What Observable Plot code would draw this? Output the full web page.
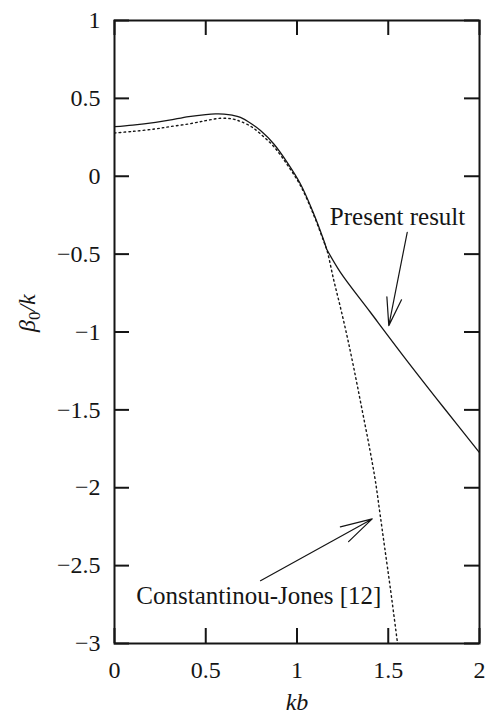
<!DOCTYPE html>
<html><head><meta charset="utf-8">
<script src="https://cdn.jsdelivr.net/npm/d3@7"></script>
<script src="https://cdn.jsdelivr.net/npm/@observablehq/plot@0.6"></script>
<style>body{margin:0;background:#fff} svg{display:block} svg text{font-family:"Liberation Serif","DejaVu Serif",serif !important;}</style>
</head><body><div id="chart"></div>
<script>
// ---- data ----
const xTicks = [0, 0.5, 1, 1.5, 2];
const yTicks = [-3, -2.5, -2, -1.5, -1, -0.5, 0, 0.5, 1];

// Present result: smooth part up to the kink
const presentKbA   = [0, 0.1, 0.225, 0.3, 0.407, 0.5, 0.553, 0.6, 0.645, 0.69, 0.75, 0.8, 0.873, 0.946, 1.019, 1.092, 1.147, 1.162];
const presentBetaA = [0.318, 0.328, 0.346, 0.36, 0.383, 0.396, 0.4, 0.399, 0.392, 0.378, 0.337, 0.293, 0.207, 0.089, -0.05, -0.242, -0.413, -0.467];
// Present result: nearly straight part after the kink
const presentKbB   = [1.162, 1.238, 1.4, 1.6, 1.8, 2.0];
const presentBetaB = [-0.467, -0.617, -0.87, -1.18, -1.48, -1.775];

// Constantinou-Jones [12] (dotted)
const cjKb   = [0, 0.1, 0.225, 0.3, 0.407, 0.5, 0.58, 0.645, 0.69, 0.75, 0.8, 0.873, 0.946, 1.019, 1.092, 1.147, 1.165, 1.2, 1.238, 1.275, 1.311, 1.35, 1.4, 1.43, 1.454, 1.48, 1.512, 1.551];
const cjBeta = [0.278, 0.288, 0.304, 0.318, 0.336, 0.357, 0.372, 0.368, 0.352, 0.318, 0.272, 0.19, 0.075, -0.06, -0.25, -0.42, -0.478, -0.66, -0.842, -1.03, -1.23, -1.46, -1.76, -1.96, -2.16, -2.38, -2.65, -3.0];

// annotations
const annText = ["Present result", "Constantinou-Jones [12]"];
const annKb   = [1.551, 0.791];
const annBeta = [-0.261, -2.693];
const arrowKb1 = [1.604, 0.8];
const arrowBeta1 = [-0.36, -2.597];
const arrowKb2 = [1.503, 1.412];
const arrowBeta2 = [-0.959, -2.2];

const xLabel = "kb";
const yLabel = "β0/k";

// ---- build ----
const W = 485, H = 717, mL = 114, mR = 6, mT = 20, mB = 74;
const plotW = W - mL - mR, plotH = H - mT - mB;
const tickLen = 15;
const ink = "#151515";
const font = "Liberation Serif, DejaVu Serif, serif";
const fmt = d => d < 0 ? "\u2212" + Math.abs(d) : String(d);

const zip = (xs, ys) => xs.map((x, i) => ({x, y: ys[i]}));
const segA = zip(presentKbA, presentBetaA);
const segB = zip(presentKbB, presentBetaB);
const cj = zip(cjKb, cjBeta);
const ann = annText.map((t, i) => ({t, x: annKb[i], y: annBeta[i]}));
const arrows = arrowKb1.map((x1, i) => ({x1, y1: arrowBeta1[i], x2: arrowKb2[i], y2: arrowBeta2[i]}));

const plot = Plot.plot({
  width: W, height: H,
  marginLeft: mL, marginRight: mR, marginTop: mT, marginBottom: mB,
  x: {domain: [0, 2]},
  y: {domain: [-3, 1]},
  style: {fontFamily: font, fontSize: "24px", color: ink, background: "#fff"},
  marks: [
    Plot.line(cj, {x: "x", y: "y", curve: "catmull-rom", stroke: ink, strokeWidth: 1.4, strokeDasharray: "1.6,3.2", clip: true}),
    Plot.line(segA, {x: "x", y: "y", curve: "catmull-rom", stroke: ink, strokeWidth: 1.3, clip: true}),
    Plot.line(segB, {x: "x", y: "y", curve: "catmull-rom", stroke: ink, strokeWidth: 1.3, clip: true}),
    // inner ticks on all four sides
    Plot.tickY(yTicks, {y: d => d, insetRight: plotW - tickLen, stroke: ink, strokeWidth: 2}),
    Plot.tickY(yTicks, {y: d => d, insetLeft: plotW - tickLen, stroke: ink, strokeWidth: 2}),
    Plot.tickX(xTicks, {x: d => d, insetTop: plotH - tickLen, stroke: ink, strokeWidth: 2}),
    Plot.tickX(xTicks, {x: d => d, insetBottom: plotH - tickLen, stroke: ink, strokeWidth: 2}),
    Plot.frame({stroke: ink, strokeWidth: 2}),
    Plot.axisX({ticks: xTicks, tickSize: 0, tickPadding: 17, tickFormat: fmt, label: null, fontSize: 24, fill: ink}),
    Plot.axisY({ticks: yTicks, tickSize: 0, tickPadding: 14, tickFormat: fmt, label: null, fontSize: 24, fill: ink}),
    Plot.arrow([arrows[0]], {x1: "x1", y1: "y1", x2: "x2", y2: "y2", headLength: 36, headAngle: 30, stroke: ink, strokeWidth: 1.2}),
    Plot.arrow([arrows[1]], {x1: "x1", y1: "y1", x2: "x2", y2: "y2", headLength: 41, headAngle: 30, stroke: ink, strokeWidth: 1.2}),
    Plot.text(ann, {x: "x", y: "y", text: "t", fontSize: 25, fill: ink, textAnchor: "middle", lineAnchor: "middle"}),
    Plot.text([xLabel], {frameAnchor: "bottom", dy: 59, text: d => d, fontSize: 24, fontStyle: "italic", fill: ink, lineAnchor: "middle"}),
    Plot.text([yLabel], {frameAnchor: "left", dx: -87, rotate: -90, text: d => d, fontSize: 24, fill: ink, lineAnchor: "middle"})
  ]
});

// force the serif face on every text
d3.select(plot).selectAll("text").attr("font-family", font).style("font-family", font);

// style the y label as β₀/k
d3.select(plot).selectAll("text").filter(function() { return this.textContent === yLabel; }).each(function() {
  const t = d3.select(this);
  t.text(null);
  t.append("tspan").attr("font-style", "italic").text("β");
  t.append("tspan").attr("font-size", "17px").attr("dy", "5px").text("0");
  t.append("tspan").attr("font-style", "italic").attr("dy", "-5px").text("/k");
});

document.getElementById("chart").append(plot);
</script>
</body></html>
